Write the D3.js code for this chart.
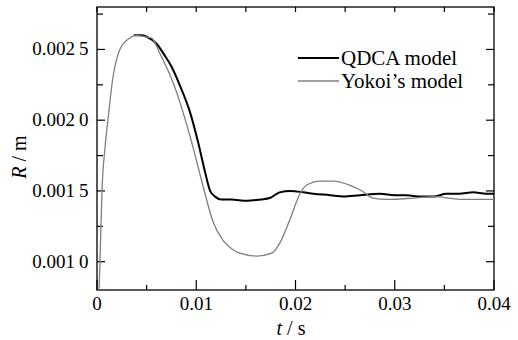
<!DOCTYPE html>
<html><head><meta charset="utf-8">
<script src="https://cdn.jsdelivr.net/npm/d3@7"></script>
<style>body{margin:0;background:#fff}svg{display:block}</style>
</head><body>
<svg id="c" width="518" height="340" font-family="Liberation Serif"></svg>
<script>
const xTicks = [0, 0.01, 0.02, 0.03, 0.04];
const xTickLabels = ["0", "0.01", "0.02", "0.03", "0.04"];
const yTicks = [0.0010, 0.0015, 0.0020, 0.0025];
const yTickLabels = [["0.001","0"],["0.001","5"],["0.002","0"],["0.002","5"]];
const seriesNames = ["QDCA model", "Yokoi\u2019s model"];
const qdcaT = [0.0037,0.0045,0.0050,0.0060,0.0068,0.0075,0.0085,0.0094,0.0102,0.0109,0.0114,0.0119,0.0125,0.0135,0.0151,0.0165,0.0174,0.0184,0.0195,0.0208,0.0218,0.0235,0.0248,0.0265,0.0285,0.0300,0.0312,0.0326,0.0339,0.0352,0.0365,0.0379,0.0392,0.0400];
const qdcaR = [0.00260,0.00260,0.00259,0.00254,0.00246,0.00238,0.00222,0.00205,0.00184,0.00163,0.00150,0.00146,0.00144,0.00144,0.00143,0.00144,0.00145,0.00149,0.00150,0.00149,0.00148,0.00147,0.00146,0.00147,0.00148,0.00147,0.00147,0.00146,0.00146,0.00148,0.00148,0.00149,0.00148,0.00148];
const yokoiT = [0.0,0.0002,0.0003,0.0005,0.0008,0.0011,0.0016,0.0023,0.0031,0.0040,0.0048,0.0055,0.00635,0.0077,0.0094,0.0107,0.0117,0.0127,0.0136,0.0144,0.0161,0.0176,0.0184,0.01945,0.02045,0.0211,0.0225,0.0238,0.0255,0.0267,0.0278,0.0292,0.0319,0.0339,0.0369,0.0400];
const yokoiR = [0.00070,0.00080,0.00100,0.00150,0.00180,0.00200,0.00230,0.00250,0.00257,0.00260,0.00259,0.00258,0.00247,0.00226,0.00188,0.00153,0.00128,0.00115,0.00109,0.00106,0.00104,0.00106,0.00113,0.00130,0.00148,0.00154,0.00157,0.00157,0.00154,0.00150,0.00145,0.00144,0.00145,0.00146,0.00144,0.00144];

const svg = d3.select("#c");
const L = 97, R = 494, T = 7, B = 290;
const x = d3.scaleLinear().domain([0, 0.04]).range([L, R]);
const y = d3.scaleLinear().domain([0.0008, 0.0028]).range([B, T]);

function txt(px, py, size, anchor) {
  return svg.append("text").attr("x", px).attr("y", py)
    .attr("text-anchor", anchor)
    .attr("font-family", "Liberation Serif").attr("font-size", size);
}

svg.append("defs").append("clipPath").attr("id","clip")
  .append("rect").attr("x",L).attr("y",T).attr("width",R-L).attr("height",B-T);

svg.append("rect").attr("x",L).attr("y",T).attr("width",R-L).attr("height",B-T)
  .attr("fill","none").attr("stroke","#000").attr("stroke-width",1.3);

const xMinor = d3.range(0, 0.0401, 0.005);
xMinor.forEach(v => {
  const major = Math.abs(v/0.01 - Math.round(v/0.01)) < 1e-6;
  const len = major ? 10 : 5;
  svg.append("line").attr("x1",x(v)).attr("x2",x(v)).attr("y1",B).attr("y2",B-len).attr("stroke","#000").attr("stroke-width",1.2);
  svg.append("line").attr("x1",x(v)).attr("x2",x(v)).attr("y1",T).attr("y2",T+5).attr("stroke","#000").attr("stroke-width",1.2);
});
const yMinor = d3.range(0.00075, 0.00281, 0.00025).filter(v => v >= 0.0008 && v <= 0.0028);
yMinor.forEach(v => {
  const major = Math.abs(v/0.0005 - Math.round(v/0.0005)) < 1e-6;
  const len = major ? 8 : 6;
  svg.append("line").attr("x1",L).attr("x2",L+len).attr("y1",y(v)).attr("y2",y(v)).attr("stroke","#000").attr("stroke-width",1.2);
  svg.append("line").attr("x1",R).attr("x2",R-len).attr("y1",y(v)).attr("y2",y(v)).attr("stroke","#000").attr("stroke-width",1.2);
});

xTicks.forEach((v,i) => {
  txt(x(v), 310, 19, "middle").text(xTickLabels[i]);
});
yTicks.forEach((v,i) => {
  const t = txt(88.5, y(v)+6, 19, "end");
  t.append("tspan").text(yTickLabels[i][0]);
  t.append("tspan").attr("dx",4).text(yTickLabels[i][1]);
});

const xt = txt(291, 335, 20, "middle");
xt.append("tspan").attr("font-style","italic").text("t");
xt.append("tspan").text(" / s");
const yt = svg.append("text").attr("x",0).attr("y",0)
  .attr("transform","translate(26,157) rotate(-90)").attr("text-anchor","middle")
  .attr("font-family","Liberation Serif").attr("font-size",20);
yt.append("tspan").attr("font-style","italic").text("R");
yt.append("tspan").text(" / m");

const line = d3.line().x(d => x(d[0])).y(d => y(d[1])).curve(d3.curveMonotoneX);
const lines = svg.append("g").attr("clip-path","url(#clip)");
lines.append("path").datum(qdcaT.map((t,i)=>[t,qdcaR[i]])).attr("d",line)
  .attr("fill","none").attr("stroke","#000").attr("stroke-width",2);
lines.append("path").datum(yokoiT.map((t,i)=>[t,yokoiR[i]])).attr("d",line)
  .attr("fill","none").attr("stroke","#7f7f7f").attr("stroke-width",1.3);

const leg = [[seriesNames[0],"#000",2,58],[seriesNames[1],"#7f7f7f",1.3,81]];
leg.forEach(d => {
  svg.append("line").attr("x1",298).attr("x2",339).attr("y1",d[3]).attr("y2",d[3]).attr("stroke",d[1]).attr("stroke-width",d[2]);
  txt(341, d[3]+7, 21, "start").text(d[0]);
});
</script>
</body></html>
